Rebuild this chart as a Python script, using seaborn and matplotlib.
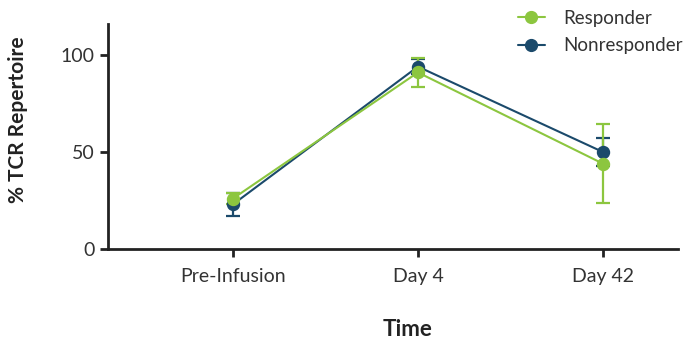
import matplotlib
matplotlib.use("Agg")
import matplotlib.pyplot as plt
from matplotlib.lines import Line2D
import seaborn as sns
import pandas as pd

# Time points and group summaries (mean % of TCR repertoire with error)
timepoints = ["Pre-Infusion", "Day 4", "Day 42"]
groups = ["Responder", "Nonresponder"]
responder_mean = [26, 91, 44]
responder_err = [3, 7.5, 20.5]
nonresponder_mean = [23, 94, 50]
nonresponder_err = [6, 4, 7]

colors = {"Responder": "#8CC63F", "Nonresponder": "#1B4A6B"}

sns.set_theme(style="ticks")
plt.rcParams["font.family"] = ["Lato", "DejaVu Sans"]

df = pd.DataFrame({
    "Time": timepoints * 2,
    "Group": ["Responder"] * 3 + ["Nonresponder"] * 3,
    "Value": responder_mean + nonresponder_mean,
    "Err": responder_err + nonresponder_err,
})

fig = plt.figure(figsize=(6.86, 3.42), dpi=100)
ax = fig.add_axes([0.1574, 0.272, 0.8306, 0.658])

draw_order = ["Nonresponder", "Responder"]
for g in draw_order:
    sub = df[df["Group"] == g]
    ax.errorbar(range(len(timepoints)), sub["Value"], yerr=sub["Err"],
                fmt="none", ecolor=colors[g], elinewidth=1.6, capsize=5,
                capthick=1.6, zorder=2)
    sns.pointplot(data=sub, x="Time", y="Value", order=timepoints,
                  color=colors[g], errorbar=None, markers="o",
                  markersize=8.5, linewidth=1.5, ax=ax, zorder=3)

ax.set_xlim(-0.676, 2.405)
ax.set_ylim(0, 116)
ax.set_yticks([0, 50, 100])
ax.set_xlabel("Time", fontsize=16, fontweight="bold", color="#222222")
ax.set_ylabel("% TCR Repertoire", fontsize=15, fontweight="bold", color="#222222")
ax.xaxis.set_label_coords(0.526, -0.31)
ax.yaxis.set_label_coords(-0.14, 0.573)
ax.tick_params(axis="both", labelsize=14, width=2, length=6, color="#222222",
               labelcolor="#333333")
ax.tick_params(axis="x", pad=8)
for side in ["top", "right"]:
    ax.spines[side].set_visible(False)
for side in ["left", "bottom"]:
    ax.spines[side].set_linewidth(2)
    ax.spines[side].set_color("#222222")

handles = [Line2D([0], [0], color=colors[g], marker="o", markersize=8.5,
                  linewidth=1.5) for g in groups]
leg = fig.legend(handles, groups, loc="upper right", bbox_to_anchor=(1.02, 1.02),
                 frameon=False, fontsize=13.5, handlelength=1.4,
                 handletextpad=1.0, labelspacing=0.55)
for t in leg.get_texts():
    t.set_color("#333333")

fig.savefig("out.png", dpi=100)
